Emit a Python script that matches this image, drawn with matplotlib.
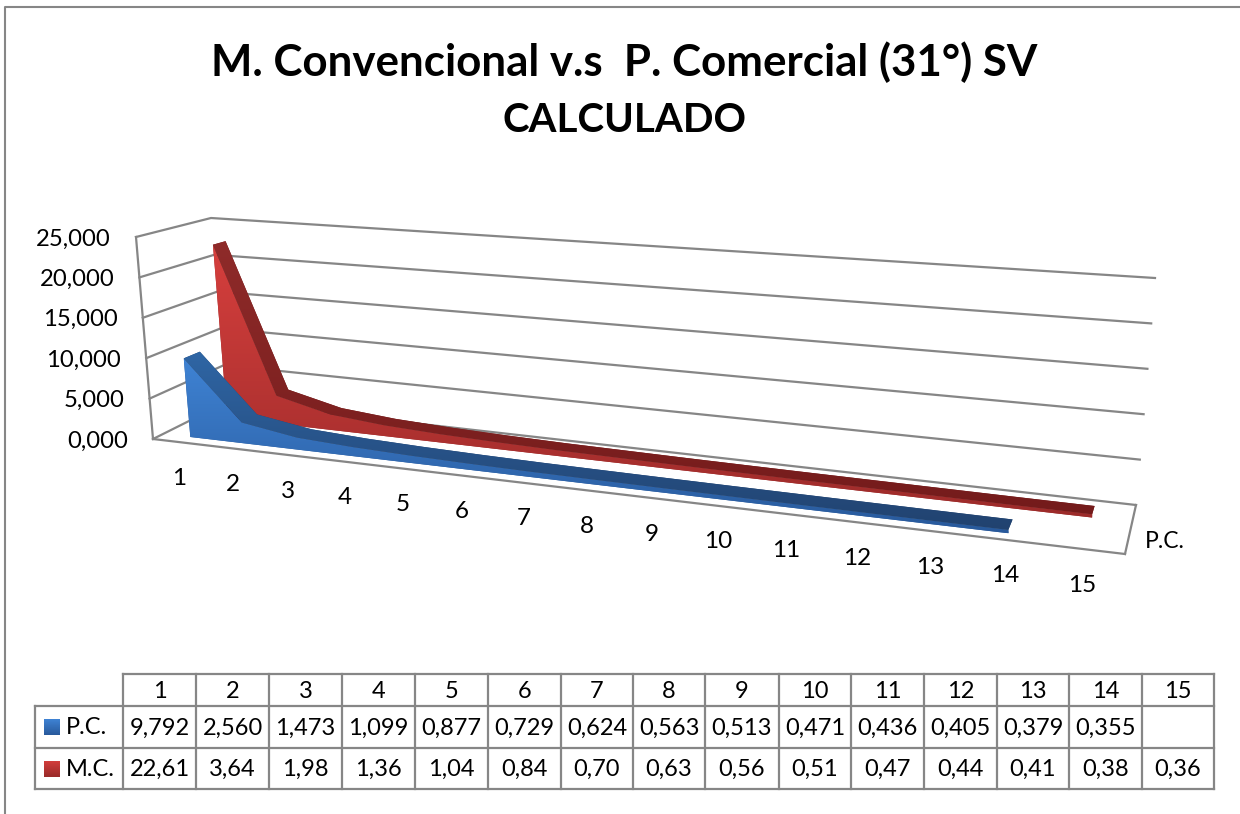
import matplotlib
matplotlib.use('Agg')
import numpy as np
import matplotlib.pyplot as plt
from matplotlib.patches import Polygon
from matplotlib.colors import LinearSegmentedColormap

plt.rcParams['font.family'] = ['Lato', 'DejaVu Sans']

title_lines = ['M. Convencional v.s  P. Comercial (31°) SV', 'CALCULADO']
categories = ['1', '2', '3', '4', '5', '6', '7', '8', '9', '10', '11', '12', '13', '14', '15']
pc_name = 'P.C.'
mc_name = 'M.C.'
pc_values = [9.792, 2.560, 1.473, 1.099, 0.877, 0.729, 0.624, 0.563, 0.513, 0.471, 0.436, 0.405, 0.379, 0.355]
mc_values = [22.61, 3.64, 1.98, 1.36, 1.04, 0.84, 0.70, 0.63, 0.56, 0.51, 0.47, 0.44, 0.41, 0.38, 0.36]
y_ticks = [0, 5, 10, 15, 20, 25]

GRAY = '#868686'
Y_MAX = 25.0

# box corners in pixels: f/b = front/back, l/r = left/right, 0/1 = floor/top
CORNERS = {
    'fl0': (153, 439), 'fr0': (1125, 554), 'bl0': (227, 402), 'br0': (1136, 505),
    'fl1': (136, 237), 'fr1': (1106, 306), 'bl1': (211, 218), 'br1': (1155, 278),
}
T0, T1 = 0.028, 0.957
PERSP = 1.217


def cat_t(i):
    s = i / (len(categories) - 1)
    return T0 + (T1 - T0) * s / (s + PERSP * (1 - s))


def box_point(t, d, h):
    c = {k: np.array(v, dtype=float) for k, v in CORNERS.items()}
    floor = (1 - d) * ((1 - t) * c['fl0'] + t * c['fr0']) + d * ((1 - t) * c['bl0'] + t * c['br0'])
    top = (1 - d) * ((1 - t) * c['fl1'] + t * c['fr1']) + d * ((1 - t) * c['bl1'] + t * c['br1'])
    return (1 - h) * floor + h * top


def project(i, d, value):
    return box_point(cat_t(i), d, value / Y_MAX)


def gradient_fill(ax, pts, colors, zorder):
    pts = np.array(pts)
    cmap = LinearSegmentedColormap.from_list('g', colors)
    poly = Polygon(pts, closed=True, facecolor=colors[-1], edgecolor='none', zorder=zorder)
    ax.add_patch(poly)
    im = ax.imshow(np.linspace(0, 1, 256).reshape(-1, 1), cmap=cmap, aspect='auto', zorder=zorder + 0.1,
                   extent=[pts[:, 0].min(), pts[:, 0].max(), pts[:, 1].max(), pts[:, 1].min()])
    im.set_clip_path(poly)


def draw_area(ax, values, d0, d1, front_colors, top_colors, zorder):
    n = len(values)
    front_top = [project(i, d0, v) for i, v in enumerate(values)]
    front_base = [project(i, d0, 0) for i in range(n)]
    back_top = [project(i, d1, v) for i, v in enumerate(values)]
    gradient_fill(ax, front_top + front_base[::-1], front_colors, zorder)
    gradient_fill(ax, back_top + front_top[::-1], top_colors, zorder + 0.5)


fig = plt.figure(figsize=(12.4, 8.14), dpi=100)
ax = fig.add_axes([0, 0, 1, 1])
ax.axis('off')

# chart frame
ax.plot([5, 5, 1240], [814, 7, 7], color=GRAY, lw=1.5)

# walls and gridlines
for v in y_ticks:
    left = box_point(0, 0, v / Y_MAX)
    mid = box_point(0, 1, v / Y_MAX)
    right = box_point(1, 1, v / Y_MAX)
    ax.plot([left[0], mid[0], right[0]], [left[1], mid[1], right[1]], color=GRAY, lw=1.6, zorder=1)
    ax.text(left[0] - 25, left[1] + 2, f'{v:.3f}'.replace('.', ','), ha='right', va='center', fontsize=17.2)

for a, b in [((0, 0, 0), (0, 0, 1)), ((0, 0, 0), (1, 0, 0)), ((1, 0, 0), (1, 1, 0))]:
    p, q = box_point(*a), box_point(*b)
    ax.plot([p[0], q[0]], [p[1], q[1]], color=GRAY, lw=1.6, zorder=1)

# areas
draw_area(ax, mc_values, 0.65, 0.82, ['#d63f3d', '#9c2b2a'], ['#8f2b2a', '#741b1b'], 2)
draw_area(ax, pc_values, 0.14, 0.36, ['#3f83d4', '#28599b'], ['#2f66a5', '#21426f'], 4)

# category labels
for i, c in enumerate(categories):
    p = project(i, 0, 0)
    ax.text(p[0] - 1, p[1] + 36, c, ha='center', va='center', fontsize=17.5)
ax.text(1165, 541, pc_name, ha='center', va='center', fontsize=16.5)

# titles
ax.text(624, 76, title_lines[0], ha='center', va='baseline', fontsize=31.6, fontweight='bold')
ax.text(624, 132, title_lines[1], ha='center', va='baseline', fontsize=29, fontweight='bold')

# data table
col_edges = [123, 196, 269, 342, 415, 488, 561, 633, 705, 779, 851, 924, 997, 1069, 1142, 1214]
row_edges = [674, 706, 748, 789]
LABEL_X = 35
for x in col_edges:
    ax.plot([x, x], [row_edges[0], row_edges[-1]], color=GRAY, lw=1.6)
ax.plot([LABEL_X, LABEL_X], [row_edges[1], row_edges[-1]], color=GRAY, lw=1.6)
ax.plot([col_edges[0], col_edges[-1]], [row_edges[0], row_edges[0]], color=GRAY, lw=1.6)
for y in row_edges[1:]:
    ax.plot([LABEL_X, col_edges[-1]], [y, y], color=GRAY, lw=1.6)

rows = [(pc_name, pc_values, 3, ['#3f83d4', '#28599b']), (mc_name, mc_values, 2, ['#d63f3d', '#9c2b2a'])]
for j, c in enumerate(categories):
    xc = (col_edges[j] + col_edges[j + 1]) / 2
    ax.text(xc, (row_edges[0] + row_edges[1]) / 2 + 1, c, ha='center', va='center', fontsize=17)
    for r, (name, vals, dec, colors) in enumerate(rows):
        if j < len(vals):
            yc = (row_edges[r + 1] + row_edges[r + 2]) / 2
            ax.text(xc, yc + 1, f'{vals[j]:.{dec}f}'.replace('.', ','), ha='center', va='center', fontsize=17)
for r, (name, vals, dec, colors) in enumerate(rows):
    yc = (row_edges[r + 1] + row_edges[r + 2]) / 2
    key = [(44, yc - 8), (60, yc - 8), (60, yc + 8), (44, yc + 8)]
    gradient_fill(ax, key, colors, 3)
    ax.text(66, yc + 1, name, ha='left', va='center', fontsize=17)

ax.set_xlim(0, 1240)
ax.set_ylim(814, 0)
fig.savefig('out.png', dpi=100)
